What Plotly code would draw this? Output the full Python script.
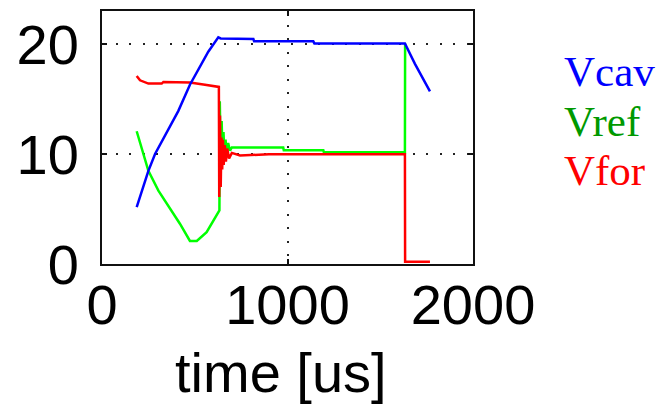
import plotly.graph_objects as go

# ---- data ----
vcav_t = [187, 250, 286, 411, 474, 573, 627, 640, 816, 820, 1139, 1145, 1633, 1687, 1768]
vcav_v = [5.16, 8.47, 10.0, 13.9, 16.3, 19.3, 20.6, 20.5, 20.45, 20.24, 20.24, 20.05, 20.05, 18.2, 15.7]

vfor_t = [187, 205, 250, 322, 331, 474, 555, 627, 630, 632, 636, 640, 644, 648, 652, 656,
          662, 668, 675, 685, 700, 744, 900, 1633, 1634, 1768]
vfor_v = [17.1, 16.7, 16.4, 16.4, 16.55, 16.5, 16.3, 16.1, 16.1, 6.1, 13.5, 7.0, 11.5, 8.6, 11.3, 9.0,
          10.8, 9.3, 10.5, 9.6, 10.1, 9.86, 9.97, 9.97, 0.2, 0.2]

vref_t = [187, 250, 304, 367, 420, 474, 511, 564, 609, 633, 635, 640, 645, 650, 655, 660, 666,
          672, 680, 690, 700, 977, 980, 1193, 1196, 1633, 1634]
vref_v = [12.07, 8.47, 6.67, 5.0, 3.66, 2.1, 2.1, 2.9, 4.27, 4.87, 14.8, 9.4, 13.0, 9.6, 12.0, 9.8, 11.3,
          10.0, 11.0, 10.3, 10.6, 10.6, 10.35, 10.35, 10.15, 10.15, 20.05]

x_ticks = [0, 1000, 2000]
y_ticks = [0, 10, 20]
series_names = ["Vcav", "Vref", "Vfor"]
series_label_colors = ["#0000FF", "#009900", "#FF0000"]

fig = go.Figure()
fig.add_trace(go.Scatter(x=vref_t, y=vref_v, mode="lines", line=dict(color="#00FF00", width=2.5), showlegend=False))
fig.add_trace(go.Scatter(x=vfor_t, y=vfor_v, mode="lines", line=dict(color="#FF0000", width=2.5), showlegend=False))
fig.add_trace(go.Scatter(x=vcav_t, y=vcav_v, mode="lines", line=dict(color="#0000FF", width=2.5), showlegend=False))

axis_common = dict(
    showline=True, linecolor="#111111", linewidth=2, mirror="ticks",
    ticks="inside", ticklen=5, tickwidth=2, tickcolor="#111111",
    showgrid=True, gridcolor="#222222", gridwidth=2, griddash="2px,11.5px",
    zeroline=False,
    tickfont=dict(family="Liberation Sans, Arial", size=56, color="black"),
)

fig.update_xaxes(range=[0, 2000], tickvals=x_ticks, ticktext=[str(v) for v in x_ticks],
                 ticklabelstandoff=-9, **axis_common)
fig.update_yaxes(range=[0, 23], tickvals=y_ticks, ticktext=[str(v) for v in y_ticks],
                 ticklabelstandoff=10, **axis_common)

legend_y = [0.761, 0.565, 0.369]
for name, col, yy in zip(series_names, series_label_colors, legend_y):
    fig.add_annotation(text=name, xref="paper", yref="paper", x=1.2399, y=yy,
                       xanchor="left", yanchor="middle", showarrow=False,
                       font=dict(family="Liberation Serif, Times New Roman", size=43, color=col))

fig.add_annotation(text="time [us]", xref="paper", yref="paper", x=0.4825, y=-0.427,
                   xanchor="center", yanchor="middle", showarrow=False,
                   font=dict(family="Liberation Sans, Arial", size=56, color="black"))

fig.update_layout(
    width=659, height=405,
    margin=dict(l=102, r=186, t=9, b=141),
    paper_bgcolor="white", plot_bgcolor="white",
    showlegend=False,
)

fig.write_html("out.html")
